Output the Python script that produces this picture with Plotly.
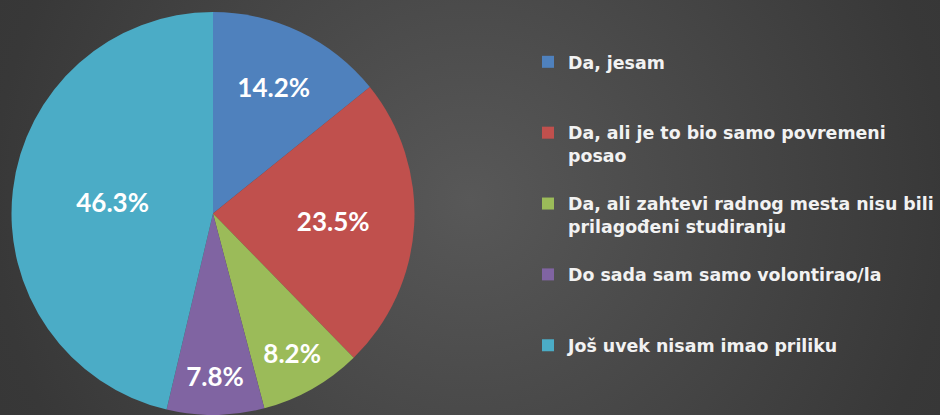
import base64
import plotly.graph_objects as go

labels = [
    "Da, jesam",
    "Da, ali je to bio samo povremeni<br>posao",
    "Da, ali zahtevi radnog mesta nisu bili<br>prilagođeni studiranju",
    "Do sada sam samo volontirao/la",
    "Još uvek nisam imao priliku",
]
values = [14.2, 23.5, 8.2, 7.8, 46.3]
colors = ["#4F81BD", "#C0504D", "#9BBB59", "#8064A2", "#4BACC6"]

# pad legend names so each legend entry takes three lines (even spacing)
legend_names = []
for lab in labels:
    n = lab.count("<br>") + 1
    legend_names.append(lab + "<br> " * (3 - n))

W, H = 940, 415
MT = 12

svg = (
    f'<svg xmlns="http://www.w3.org/2000/svg" width="{W}" height="{H}">'
    '<defs><radialGradient id="g" cx="470" cy="200" r="560" gradientUnits="userSpaceOnUse">'
    '<stop offset="0" stop-color="#585858"/><stop offset="0.85" stop-color="#383838"/>'
    '<stop offset="1" stop-color="#363636"/></radialGradient></defs>'
    f'<rect width="{W}" height="{H}" fill="url(#g)"/></svg>'
)
bg_uri = "data:image/svg+xml;base64," + base64.b64encode(svg.encode()).decode()

fig = go.Figure(
    go.Pie(
        labels=legend_names,
        values=values,
        sort=False,
        direction="clockwise",
        rotation=0,
        marker=dict(colors=colors, line=dict(width=0)),
        texttemplate="%{value:.1f}%",
        textposition="inside",
        insidetextorientation="horizontal",
        textfont=dict(family="Lato", size=26, color="white", weight="bold"),
        hoverinfo="skip",
        domain=dict(x=[(213 - 202) / W, (213 + 202) / W], y=[0, 1]),
    )
)

plot_h = H - MT
fig.update_layout(
    width=W,
    height=H,
    margin=dict(l=0, r=0, t=MT, b=0),
    paper_bgcolor="#474747",
    plot_bgcolor="rgba(0,0,0,0)",
    showlegend=True,
    legend=dict(
        x=(568 - 40) / W,
        xanchor="left",
        y=1 - (44 - MT) / plot_h,
        yanchor="top",
        valign="top",
        font=dict(family="DejaVu Sans", size=17.4, color="#F2F2F2", weight="bold"),
        bgcolor="rgba(0,0,0,0)",
        itemclick=False,
        itemdoubleclick=False,
    ),
    images=[
        dict(
            source=bg_uri,
            xref="paper",
            yref="paper",
            x=0,
            y=1 + MT / plot_h,
            sizex=1,
            sizey=H / plot_h,
            sizing="stretch",
            xanchor="left",
            yanchor="top",
            layer="below",
        )
    ],
)

fig.write_html(
    "out.html",
    config={"displayModeBar": False},
    post_script="document.body.style.margin='0';document.body.style.overflow='hidden';",
)
